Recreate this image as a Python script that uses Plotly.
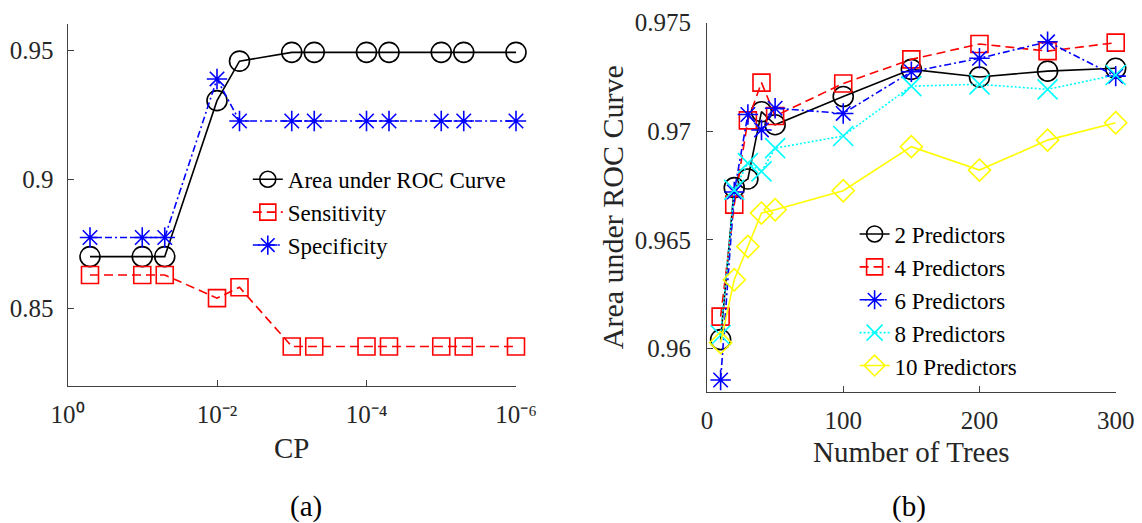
import plotly.graph_objects as go

# ---------------- data: panel (a) ----------------
cp_values = [0.5, 0.1, 0.05, 0.01, 0.005, 0.001, 0.0005, 1e-4, 5e-5, 1e-5, 5e-6, 1e-6]
auc_cp = [0.870, 0.870, 0.870, 0.9304, 0.9457, 0.9491, 0.9491, 0.9491, 0.9491, 0.9491, 0.9491, 0.9491]
sens_cp = [0.8629, 0.8629, 0.8629, 0.8539, 0.8581, 0.8352, 0.8352, 0.8352, 0.8352, 0.8352, 0.8352, 0.8352]
spec_cp = [0.8774, 0.8774, 0.8774, 0.9388, 0.9225, 0.9225, 0.9225, 0.9225, 0.9225, 0.9225, 0.9225, 0.9225]
cp_tickvals = [1, 1e-2, 1e-4, 1e-6]
cp_ticktext = ["10⁰", "10⁻²", "10⁻⁴", "10⁻⁶"]
a_ytickvals = [0.85, 0.9, 0.95]
a_yticktext = ["0.85", "0.9", "0.95"]

# ---------------- data: panel (b) ----------------
trees = [10, 20, 30, 40, 50, 100, 150, 200, 250, 300]
auc_2 = [0.9604, 0.9674, 0.9678, 0.9709, 0.9703, 0.9716, 0.97285, 0.9725, 0.97277, 0.9729]
auc_4 = [0.96146, 0.96662, 0.9705, 0.97224, 0.9707, 0.9722, 0.97331, 0.97402, 0.97369, 0.97408]
auc_6 = [0.95854, 0.9672, 0.97077, 0.97006, 0.97106, 0.97082, 0.97274, 0.97336, 0.97412, 0.97254]
auc_8 = [0.9606, 0.9673, 0.96853, 0.96815, 0.96922, 0.96978, 0.97208, 0.97216, 0.97193, 0.97259]
auc_10 = [0.96026, 0.96316, 0.96469, 0.96623, 0.96638, 0.96726, 0.96929, 0.96821, 0.96959, 0.97039]
b_xtickvals = [0, 100, 200, 300]
b_ytickvals = [0.96, 0.965, 0.97, 0.975]
b_yticktext = ["0.96", "0.965", "0.97", "0.975"]

W, H = 1142, 523
FONT = "Liberation Serif"
AX = "#404040"
TXT = "#262626"

fig = go.Figure()

def add(x, y, name, color, dash, symbol, size, xa, ya, leg):
    fig.add_trace(go.Scatter(
        x=x, y=y, name=name, mode="lines+markers", xaxis=xa, yaxis=ya, legend=leg,
        cliponaxis=False,
        line=dict(color=color, width=1.6, dash=dash),
        marker=dict(symbol=symbol, size=size, color=color, line=dict(color=color, width=1.6)),
    ))

add(cp_values, auc_cp, "Area under ROC Curve", "#000000", "solid", "circle-open", 20, "x", "y", "legend")
add(cp_values, sens_cp, "Sensitivity", "#ff0000", "9px,5px", "square-open", 17, "x", "y", "legend")
add(cp_values, spec_cp, "Specificity", "#0000ff", "7px,3px,2px,3px", "asterisk-open", 17, "x", "y", "legend")

add(trees, auc_2, "2 Predictors", "#000000", "solid", "circle-open", 20, "x2", "y2", "legend2")
add(trees, auc_4, "4 Predictors", "#ff0000", "9px,5px", "square-open", 17, "x2", "y2", "legend2")
add(trees, auc_6, "6 Predictors", "#0000ff", "7px,3px,2px,3px", "asterisk-open", 17, "x2", "y2", "legend2")
add(trees, auc_8, "8 Predictors", "#00ffff", "2px,2px", "x-thin-open", 20, "x2", "y2", "legend2")
add(trees, auc_10, "10 Predictors", "#ffff00", "solid", "diamond-open", 17, "x2", "y2", "legend2")

def px_x(p):
    return p / W

def px_y(p):
    return (H - p) / H

common_axis = dict(
    showline=True, linecolor=AX, linewidth=1, ticks="inside", ticklen=6,
    tickcolor=AX, tickwidth=1, showgrid=False, zeroline=False, mirror=False,
    automargin=False, tickfont=dict(family=FONT, size=25, color=TXT),
)

fig.update_layout(
    width=W, height=H, margin=dict(l=0, r=0, t=0, b=0),
    paper_bgcolor="white", plot_bgcolor="white",
    font=dict(family=FONT, size=25, color=TXT),
    xaxis=dict(common_axis, domain=[px_x(67.5), px_x(516)], anchor="y", type="log",
               range=[0, -6], tickvals=cp_tickvals, ticktext=cp_ticktext,
               ticklabelstandoff=6,
               title=dict(text="CP", font=dict(family=FONT, size=29, color=TXT), standoff=10)),
    yaxis=dict(common_axis, domain=[px_y(385.7), px_y(24.2)], anchor="x",
               range=[0.82, 0.96], tickvals=a_ytickvals, ticktext=a_yticktext,
               ticklabelstandoff=8),
    xaxis2=dict(common_axis, domain=[px_x(707), px_x(1115.7)], anchor="y2",
                range=[0, 300], tickvals=b_xtickvals,
                ticklabelstandoff=6,
                title=dict(text="Number of Trees", font=dict(family=FONT, size=29, color=TXT), standoff=8)),
    yaxis2=dict(common_axis, domain=[px_y(391.7), px_y(22.7)], anchor="x2",
                range=[0.958, 0.975], tickvals=b_ytickvals, ticktext=b_yticktext,
                ticklabelstandoff=10,
                title=dict(text="Area under ROC Curve", font=dict(family=FONT, size=30, color=TXT), standoff=2)),
    legend=dict(x=px_x(247.8), y=px_y(212.3), xanchor="left", yanchor="middle",
                font=dict(family=FONT, size=23, color="#000000"),
                bgcolor="rgba(255,255,255,0)", borderwidth=0),
    legend2=dict(x=px_x(854.6), y=px_y(300), xanchor="left", yanchor="middle",
                 font=dict(family=FONT, size=23, color="#000000"),
                 bgcolor="rgba(255,255,255,0)", borderwidth=0),
    showlegend=True,
    annotations=[
        dict(text="(a)", x=px_x(306), y=px_y(506), xref="paper", yref="paper",
             xanchor="center", yanchor="middle", showarrow=False,
             font=dict(family=FONT, size=29, color="#000000")),
        dict(text="(b)", x=px_x(909), y=px_y(506), xref="paper", yref="paper",
             xanchor="center", yanchor="middle", showarrow=False,
             font=dict(family=FONT, size=29, color="#000000")),
    ],
)

fig.write_html("out.html")
